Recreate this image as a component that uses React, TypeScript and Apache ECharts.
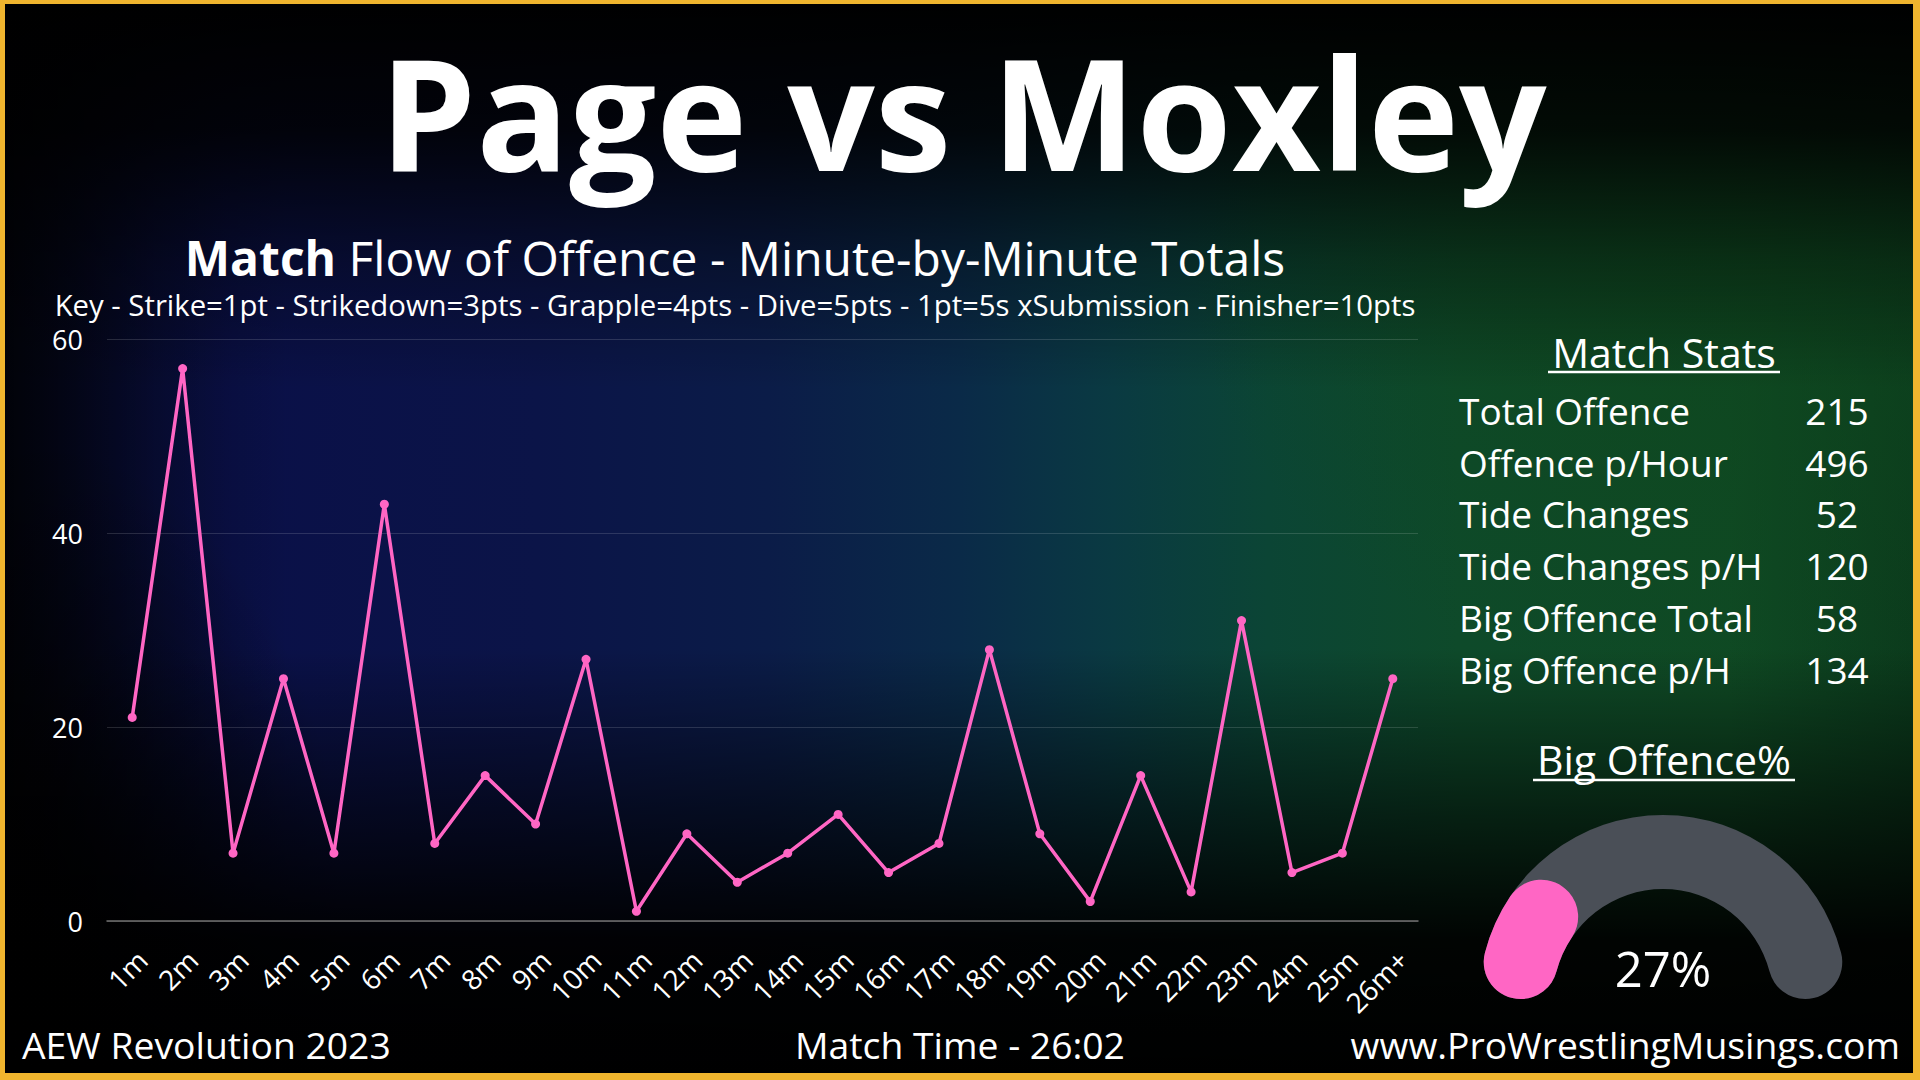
import React, { useEffect, useRef } from "react";
import * as echarts from "echarts";

const minutes = ["1m","2m","3m","4m","5m","6m","7m","8m","9m","10m","11m","12m","13m","14m","15m","16m","17m","18m","19m","20m","21m","22m","23m","24m","25m","26m+"];
const offence = [21,57,7,25,7,43,8,15,10,27,1,9,4,7,11,5,8,28,9,2,15,3,31,5,7,25];
const statLabels = ["Total Offence","Offence p/Hour","Tide Changes","Tide Changes p/H","Big Offence Total","Big Offence p/H"];
const statValues = ["215","496","52","120","58","134"];
const bigOffencePct = 27;
const yTicks = { min: 0, max: 60, interval: 20 };

const FONT = "'Open Sans', 'Noto Sans', sans-serif";
const PINK = "#FF66C4";
const GRAY = "#4A4F57";
const YELLOW = "#F0B52E";

export default function App() {
  const ref = useRef<HTMLDivElement>(null);
  useEffect(() => {
    if (!ref.current) return;
    const chart = echarts.init(ref.current, undefined, { renderer: "svg" });
    const graphic: any[] = [];
    const txt = (text: string, x: number, y: number, size: number, align: string, weight = "normal", extra: any = {}) => ({
      type: "text",
      x, y,
      silent: true,
      style: {
        text,
        fill: "#ffffff",
        font: `${weight} ${size}px ${FONT}`,
        textAlign: align,
        textVerticalAlign: "bottom",
        ...extra,
      },
    });
    graphic.push(txt("Page vs Moxley", 963, 188, 154, "center", "bold"));
    graphic.push({
      type: "text", x: 735, y: 281, silent: true,
      style: {
        text: "{b|Match} Flow of Offence - Minute-by-Minute Totals",
        fill: "#fff",
        font: `normal 48px ${FONT}`,
        textAlign: "center",
        textVerticalAlign: "bottom",
        rich: { b: { fontWeight: "bold", fontSize: 48, fontFamily: FONT, fill: "#fff" } },
      },
    });
    graphic.push(txt("Key - Strike=1pt - Strikedown=3pts - Grapple=4pts - Dive=5pts - 1pt=5s xSubmission - Finisher=10pts", 735, 319, 29.3, "center"));
    graphic.push(txt("Match Stats", 1664, 372, 41, "center"));
    graphic.push({ type: "line", silent: true, shape: { x1: 1548, y1: 372, x2: 1780, y2: 372 }, style: { stroke: "#fff", lineWidth: 2.5 } });
    statLabels.forEach((l, i) => {
      const y = 429 + i * 51.7;
      graphic.push(txt(l, 1459, y, 37, "left"));
      graphic.push(txt(statValues[i], 1837, y, 37, "center"));
    });
    graphic.push(txt("Big Offence%", 1664, 779.5, 41, "center"));
    graphic.push({ type: "line", silent: true, shape: { x1: 1533, y1: 780, x2: 1795, y2: 780 }, style: { stroke: "#fff", lineWidth: 2.5 } });
    graphic.push(txt(bigOffencePct + "%", 1663, 992, 49, "center"));
    graphic.push(txt("AEW Revolution 2023", 22, 1063, 37.3, "left"));
    graphic.push(txt("Match Time - 26:02", 960, 1063, 37.3, "center"));
    graphic.push(txt("www.ProWrestlingMusings.com", 1900, 1063, 37.3, "right"));
    // border
    graphic.push({ type: "rect", silent: true, shape: { x: 0, y: 0, width: 1920, height: 4 }, style: { fill: YELLOW } });
    graphic.push({ type: "rect", silent: true, shape: { x: 0, y: 1073, width: 1920, height: 7 }, style: { fill: YELLOW } });
    graphic.push({ type: "rect", silent: true, shape: { x: 0, y: 0, width: 5, height: 1080 }, style: { fill: YELLOW } });
    graphic.push({ type: "rect", silent: true, shape: { x: 1913, y: 0, width: 7, height: 1080 }, style: { fill: YELLOW } });

    const pieCommon = {
      type: "pie",
      radius: [110, 184],
      center: [1663, 999],
      startAngle: 180,
      clockwise: true,
      silent: true,
      avoidLabelOverlap: false,
      label: { show: false },
      labelLine: { show: false },
      emphasis: { disabled: true, scale: false },
      itemStyle: { borderRadius: 37, borderWidth: 0 },
    };

    chart.setOption({
      animation: false,
      backgroundColor: "transparent",
      textStyle: { fontFamily: FONT },
      grid: { left: 107, right: 502, top: 339.5, bottom: 159, containLabel: false },
      xAxis: {
        type: "category",
        data: minutes,
        boundaryGap: true,
        axisLine: { show: true, lineStyle: { color: "#707070", width: 1.5 } },
        axisTick: { show: false },
        splitLine: { show: false },
        axisLabel: {
          rotate: 45,
          color: "#ffffff",
          fontSize: 28,
          fontFamily: FONT,
          margin: 24,
          verticalAlign: "top",
          interval: 0,
        },
      },
      yAxis: {
        type: "value",
        min: yTicks.min,
        max: yTicks.max,
        interval: yTicks.interval,
        axisLine: { show: false },
        axisTick: { show: false },
        splitLine: { show: true, lineStyle: { color: "rgba(255,255,255,0.14)", width: 1 } },
        axisLabel: { color: "#ffffff", fontSize: 27, fontFamily: FONT, margin: 24 },
      },
      series: [
        {
          type: "line",
          data: offence,
          symbol: "circle",
          symbolSize: 9,
          lineStyle: { color: PINK, width: 3.5 },
          itemStyle: { color: PINK },
          z: 3,
        },
        {
          ...pieCommon,
          z: 1,
          data: [
            { value: 100, itemStyle: { color: GRAY } },
            { value: 100, itemStyle: { color: "rgba(0,0,0,0)" } },
          ],
        },
        {
          ...pieCommon,
          z: 2,
          data: [
            { value: bigOffencePct, itemStyle: { color: PINK } },
            { value: 100 - bigOffencePct, itemStyle: { color: "rgba(0,0,0,0)" } },
            { value: 100, itemStyle: { color: "rgba(0,0,0,0)" } },
          ],
        },
      ],
      graphic,
    });
    return () => chart.dispose();
  }, []);

  const bg = [
    "linear-gradient(to bottom, rgba(0,0,0,1) 0%, rgba(0,0,0,0.85) 12%, rgba(0,0,0,0.35) 24%, rgba(0,0,0,0) 36%, rgba(0,0,0,0) 60%, rgba(0,0,0,0.55) 75%, rgba(0,0,0,0.95) 87%, #000 100%)",
    "radial-gradient(ellipse 18% 45% at 0% 85%, rgba(0,0,0,0.9), rgba(0,0,0,0))",
    "linear-gradient(to right, rgba(0,0,0,0.8) 0%, rgba(0,0,0,0.25) 8%, rgba(0,0,0,0) 15%, rgba(0,0,0,0) 100%)",
    "radial-gradient(ellipse 30% 40% at 92% 25%, rgba(14,70,30,0.8), rgba(0,0,0,0))",
    "linear-gradient(to right, #060a28 0%, #0a1048 12%, #0b1448 28%, #0b1c48 40%, #0a2a48 50%, #0a3a42 58%, #0b4535 66%, #0e4a2a 76%, #0f4a24 90%, #0b3a1c 100%)",
  ].join(",");

  return (
    <div
      style={{
        position: "fixed",
        left: 0,
        top: 0,
        width: 1920,
        height: 1080,
        background: bg,
        overflow: "hidden",
      }}
    >
      <div ref={ref} style={{ width: 1920, height: 1080 }} />
    </div>
  );
}
